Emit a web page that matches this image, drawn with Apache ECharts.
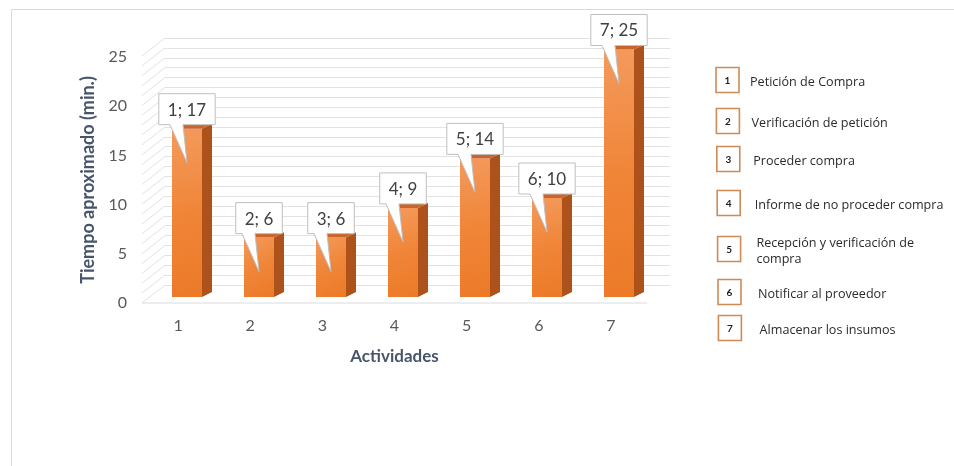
<!DOCTYPE html>
<html>
<head>
<meta charset="utf-8">
<script src="https://cdn.jsdelivr.net/npm/echarts@6/dist/echarts.min.js"></script>
<style>
  html, body { margin: 0; padding: 0; background: #ffffff; }
  #chart { width: 954px; height: 466px; }
</style>
</head>
<body>
<div id="chart"></div>
<script>
// Activity numbers and the approximate time (minutes) for each
const activities = ['1', '2', '3', '4', '5', '6', '7'];
const minutes = [17, 6, 6, 9, 14, 10, 25];
// Names listed in the key on the right
const activityNames = [
  'Petición de Compra',
  'Verificación de petición',
  'Proceder compra',
  'Informe de no proceder compra',
  'Recepción y verificación de\ncompra',
  'Notificar al proveedor',
  'Almacenar los insumos'
];
const yAxisTitle = 'Tiempo aproximado (min.)';
const xAxisTitle = 'Actividades';

const FONT = 'Lato, "Open Sans", sans-serif';
const TITLE_COLOR = '#47556b';

// text width helper for the callout boxes
const measureCtx = document.createElement('canvas').getContext('2d');
function textWidth(str, font) {
  measureCtx.font = font;
  return measureCtx.measureText(str).width;
}

// depth of the back wall relative to the front edge of the floor
const WALL_DX = 23, WALL_DY = -18;
// depth of each column
const BAR_DX = 10, BAR_DY = -5, BAR_W = 30;

const wallLevels = [];
for (let v = 0; v <= 25; v++) wallLevels.push([0, v]);

const chart = echarts.init(document.getElementById('chart'), null, { renderer: 'canvas' });

chart.setOption({
  backgroundColor: '#ffffff',
  animation: false,
  grid: [
    // back wall
    { left: 165, right: 954 - 670, top: 38, bottom: 466 - 285 },
    // front edge: axis labels and titles
    { left: 142, right: 954 - 647, top: 57, bottom: 466 - 303 },
    // columns
    { left: 151, right: 954 - 655, top: 49.5, bottom: 466 - 297 }
  ],
  xAxis: [
    { gridIndex: 0, type: 'value', min: 0, max: 1, show: false },
    {
      gridIndex: 1, type: 'category', data: activities,
      axisLine: { show: false }, axisTick: { show: false },
      axisLabel: { fontFamily: FONT, fontSize: 16, color: '#595959', margin: 15 },
      name: xAxisTitle, nameLocation: 'middle', nameGap: 45,
      nameTextStyle: { fontFamily: FONT, fontSize: 17, fontWeight: 'bold', color: TITLE_COLOR }
    },
    { gridIndex: 2, type: 'category', data: activities, show: false }
  ],
  yAxis: [
    {
      gridIndex: 0, type: 'value', min: 0, max: 25, interval: 1,
      axisLine: { show: false }, axisTick: { show: false }, axisLabel: { show: false },
      splitLine: { show: true, lineStyle: { color: '#e2e2e2', width: 1 } }
    },
    {
      gridIndex: 1, type: 'value', min: 0, max: 25, interval: 5,
      axisLine: { show: false }, axisTick: { show: false },
      splitLine: { show: false },
      axisLabel: { fontFamily: FONT, fontSize: 16, color: '#595959', margin: 15 },
      name: yAxisTitle, nameLocation: 'middle', nameGap: 44, nameRotate: 90,
      nameTextStyle: { fontFamily: FONT, fontSize: 18, fontWeight: 'bold', color: TITLE_COLOR }
    },
    { gridIndex: 2, type: 'value', min: 0, max: 25, show: false }
  ],
  series: [
    {
      // left side wall lines and the front floor edge
      type: 'custom',
      xAxisIndex: 0, yAxisIndex: 0,
      data: wallLevels,
      silent: true,
      z: 1,
      renderItem: function (params, api) {
        const p = api.coord([0, api.value(1)]);
        const children = [{
          type: 'line',
          shape: { x1: p[0], y1: p[1], x2: p[0] - WALL_DX, y2: p[1] - WALL_DY },
          style: { stroke: '#e2e2e2', lineWidth: 1 }
        }];
        if (api.value(1) === 0) {
          const r = api.coord([1, 0]);
          children.push({
            type: 'line',
            shape: { x1: p[0] - WALL_DX, y1: p[1] - WALL_DY, x2: r[0] - WALL_DX, y2: r[1] - WALL_DY },
            style: { stroke: '#dcdcdc', lineWidth: 1 }
          });
        }
        return { type: 'group', children: children };
      }
    },
    {
      // columns with callout labels
      type: 'custom',
      xAxisIndex: 2, yAxisIndex: 2,
      data: minutes.map((v, i) => [i, v]),
      encode: { x: 0, y: 1 },
      z: 5,
      renderItem: function (params, api) {
        const idx = api.value(0);
        const val = api.value(1);
        const base = api.coord([idx, 0]);
        const top = api.coord([idx, val]);
        const cx = base[0];
        const x0 = cx - BAR_W / 2, x1 = cx + BAR_W / 2;
        const yb = base[1], yt = top[1];

        const front = {
          type: 'rect',
          shape: { x: x0, y: yt, width: BAR_W, height: yb - yt },
          style: {
            fill: new echarts.graphic.LinearGradient(0, 0, 1, 1, [
              { offset: 0, color: '#f49a5c' },
              { offset: 0.5, color: '#f08538' },
              { offset: 1, color: '#ec7a28' }
            ])
          }
        };
        const side = {
          type: 'polygon',
          shape: { points: [[x1, yt], [x1 + BAR_DX, yt + BAR_DY], [x1 + BAR_DX, yb + BAR_DY], [x1, yb]] },
          style: { fill: '#ad521b' }
        };
        const cap = {
          type: 'polygon',
          shape: { points: [[x0, yt], [x1, yt], [x1 + BAR_DX, yt + BAR_DY], [x0 + BAR_DX, yt + BAR_DY]] },
          style: { fill: '#c9652a' }
        };

        // callout box with a pointer into the column
        const text = activities[idx] + '; ' + val;
        const font = '17px ' + FONT;
        const bw = textWidth(text, font) + 18;
        const bh = 31;
        const bB = yt - 4, bT = bB - bh;
        const bL = cx - bw / 2, bR = cx + bw / 2;
        const callout = {
          type: 'polygon',
          shape: {
            points: [[bL, bT], [bR, bT], [bR, bB], [cx - 4, bB], [cx, yt + 34], [cx - 17, bB], [bL, bB]]
          },
          style: { fill: '#ffffff', stroke: '#bfbfbf', lineWidth: 1 }
        };
        const label = {
          type: 'text',
          style: {
            text: text, x: cx, y: (bT + bB) / 2 + 1,
            align: 'center', verticalAlign: 'middle',
            font: font, fill: '#404040'
          }
        };
        return { type: 'group', children: [front, side, cap, callout, label] };
      }
    }
  ],
  graphic: (function () {
    const els = [];
    // outer frame
    els.push({
      type: 'rect', silent: true,
      shape: { x: 11.5, y: 9.5, width: 1000, height: 1000 },
      style: { fill: 'none', stroke: '#d9dadd', lineWidth: 1 }
    });
    // key of activity names
    const rowY = [80, 121, 159, 203, 249, 292, 328];
    activityNames.forEach((name, i) => {
      const bx = 716 + i * 0.4;
      els.push({
        type: 'rect', silent: true,
        shape: { x: bx, y: rowY[i] - 12.5, width: 23, height: 25 },
        style: { fill: '#ffffff', stroke: '#cf8a55', lineWidth: 1.6 }
      });
      els.push({
        type: 'text', silent: true,
        style: {
          text: activities[i], x: bx + 11.5, y: rowY[i] + 1,
          align: 'center', verticalAlign: 'middle',
          font: 'bold 10px ' + FONT, fill: '#222222'
        }
      });
      els.push({
        type: 'text', silent: true,
        style: {
          text: name, x: 750 + i * 1.6, y: rowY[i] + 2,
          align: 'left', verticalAlign: 'middle',
          font: '12.6px "Open Sans", sans-serif', fill: '#2b2b2b', lineHeight: 16
        }
      });
    });
    return els;
  })()
});
</script>
</body>
</html>
